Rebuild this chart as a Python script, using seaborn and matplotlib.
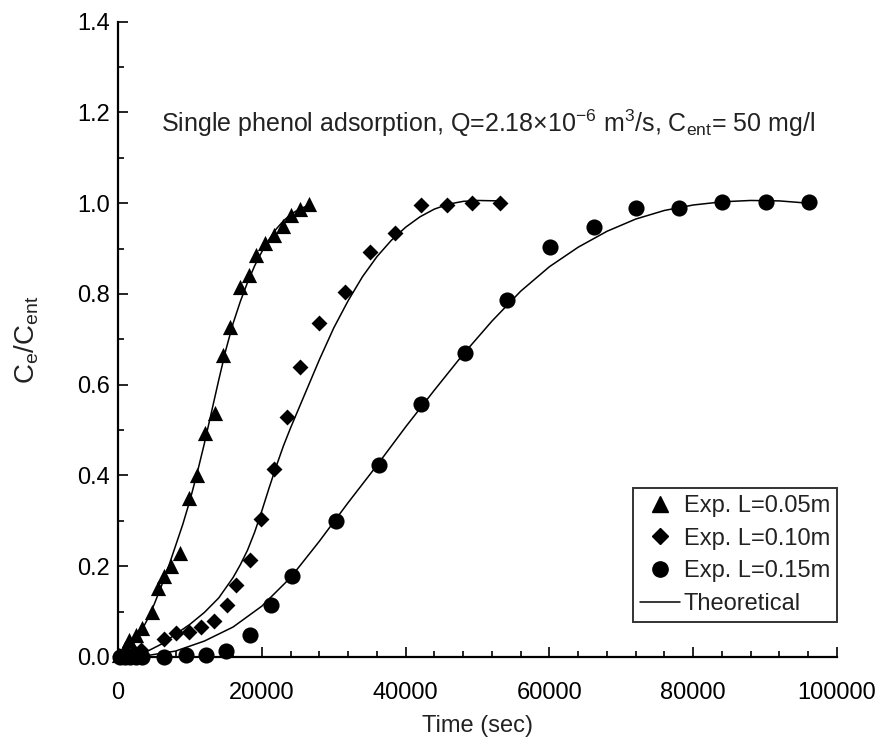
import numpy as np
import pandas as pd
import matplotlib
matplotlib.use('Agg')
import matplotlib.pyplot as plt
import seaborn as sns
from matplotlib.lines import Line2D
from matplotlib.ticker import MultipleLocator, FormatStrFormatter

sns.set_theme(style='ticks')
plt.rcParams['font.family'] = ['Liberation Sans Narrow', 'Liberation Sans', 'DejaVu Sans']
plt.rcParams['mathtext.default'] = 'regular'

t_005 = [200, 900, 1500, 2430, 3360, 4660, 5590, 6370, 7300, 8550, 9800, 10950, 12120,
         13460, 14660, 15640, 16930, 18180, 19150, 20400, 21710, 22960, 24070, 25270, 26600]
c_005 = [0.005, 0.02, 0.038, 0.049, 0.064, 0.100, 0.152, 0.178, 0.200, 0.230, 0.350, 0.400, 0.493,
         0.537, 0.666, 0.728, 0.815, 0.842, 0.886, 0.912, 0.930, 0.950, 0.975, 0.987, 0.998]

t_010 = [300, 1200, 2200, 3200, 6400, 8000, 9900, 11600, 13400, 15170, 16430, 18420, 19950,
         21700, 23520, 25370, 28010, 31530, 35090, 38570, 42140, 45750, 49230, 53150]
c_010 = [0.003, 0.008, 0.010, 0.015, 0.040, 0.053, 0.056, 0.066, 0.080, 0.115, 0.159, 0.213, 0.305,
         0.415, 0.529, 0.639, 0.737, 0.805, 0.893, 0.934, 0.996, 0.996, 1.001, 1.001]

t_015 = [300, 1000, 1700, 2500, 3300, 6450, 9400, 12250, 15050, 18420, 21290, 24210, 30280,
         36340, 42140, 48200, 54090, 60110, 66230, 72060, 78040, 83970, 90090, 96100]
c_015 = [0.0, 0.0, 0.0, 0.0, 0.0, 0.0, 0.004, 0.005, 0.014, 0.049, 0.115, 0.178, 0.300,
         0.424, 0.558, 0.670, 0.787, 0.903, 0.947, 0.990, 0.990, 1.002, 1.002, 1.002]

# 理论曲线
tt_005 = [0, 1000, 2000, 3000, 4000, 5000, 6000, 7000, 8000, 9000, 10000, 11000, 12000, 13000,
          14000, 15000, 16000, 17000, 18000, 19000, 20000, 21000, 22000, 23000, 24000, 25000,
          26000, 26600]
ct_005 = [0, 0.01, 0.025, 0.05, 0.08, 0.115, 0.155, 0.198, 0.245, 0.292, 0.345, 0.405, 0.47, 0.54,
          0.61, 0.677, 0.735, 0.783, 0.825, 0.862, 0.893, 0.92, 0.943, 0.961, 0.975, 0.985,
          0.992, 0.995]

tt_010 = [0, 2000, 4000, 6000, 8000, 10000, 12000, 14000, 16000, 17000, 18000, 19000, 20000, 21000,
          22000, 23000, 24000, 26000, 28000, 30000, 32000, 34000, 36000, 38000, 40000, 42000, 44000,
          46000, 48000, 50000, 53000]
ct_010 = [0, 0.003, 0.012, 0.028, 0.05, 0.072, 0.098, 0.13, 0.175, 0.203, 0.235, 0.275, 0.322,
          0.372, 0.42, 0.465, 0.505, 0.58, 0.655, 0.725, 0.785, 0.838, 0.882, 0.918, 0.947, 0.97,
          0.987, 0.998, 1.004, 1.006, 1.005]

tt_015 = [0, 4000, 8000, 12000, 16000, 20000, 24000, 28000, 32000, 36000, 40000, 44000, 48000,
          52000, 56000, 60000, 64000, 68000, 72000, 76000, 80000, 84000, 88000, 92000, 96000]
ct_015 = [0, 0.003, 0.013, 0.035, 0.066, 0.112, 0.175, 0.255, 0.34, 0.422, 0.507, 0.588, 0.667,
          0.74, 0.806, 0.86, 0.903, 0.938, 0.965, 0.984, 0.996, 1.003, 1.006, 1.005, 1.0]

labels = ['Exp. L=0.05m', 'Exp. L=0.10m', 'Exp. L=0.15m']

fig = plt.figure(figsize=(8.77, 7.42), dpi=100)
ax = fig.add_axes([0.1346, 0.1146, 0.8198, 0.8562])

for tt, ct in [(tt_005, ct_005), (tt_010, ct_010), (tt_015, ct_015)]:
    sns.lineplot(x=tt, y=ct, ax=ax, color='black', linewidth=1.1, sort=False,
                 legend=False, clip_on=False)

sns.scatterplot(x=t_005, y=c_005, ax=ax, marker='^', s=120, color='black',
                edgecolor='black', linewidth=0, legend=False, clip_on=False, zorder=3)
sns.scatterplot(x=t_010, y=c_010, ax=ax, marker='D', s=66, color='black',
                edgecolor='black', linewidth=0, legend=False, clip_on=False, zorder=3)
sns.scatterplot(x=t_015, y=c_015, ax=ax, marker='o', s=135, color='black',
                edgecolor='black', linewidth=0, legend=False, clip_on=False, zorder=3)

ax.set_xlim(0, 100000)
ax.set_ylim(0, 1.4)
ax.xaxis.set_major_locator(MultipleLocator(20000))
ax.xaxis.set_minor_locator(MultipleLocator(4000))
ax.yaxis.set_major_locator(MultipleLocator(0.2))
ax.yaxis.set_minor_locator(MultipleLocator(0.1))
ax.yaxis.set_major_formatter(FormatStrFormatter('%.1f'))
ax.tick_params(which='both', direction='in', colors='black', labelsize=17, width=1.2)
ax.tick_params(which='major', length=7)
ax.tick_params(which='minor', length=4)
ax.tick_params(axis='y', which='major', pad=6)
ax.tick_params(axis='x', which='major', pad=18)
sns.despine(ax=ax)
for sp in ['left', 'bottom']:
    ax.spines[sp].set_linewidth(1.6)
    ax.spines[sp].set_color('black')

ax.set_xlabel('Time (sec)', fontsize=17, color='#222222', labelpad=8)
ax.set_ylabel('C$_e$/C$_{ent}$', fontsize=20, color='#222222', labelpad=26)

ax.text(51500, 1.175,
        'Single phenol adsorption, Q=2.18×10$^{-6}$ m$^3$/s, C$_{ent}$= 50 mg/l',
        ha='center', va='center', fontsize=18, color='#222222')

handles = [
    Line2D([], [], marker='^', color='black', linestyle='none', markersize=11),
    Line2D([], [], marker='D', color='black', linestyle='none', markersize=8),
    Line2D([], [], marker='o', color='black', linestyle='none', markersize=11),
    Line2D([], [], color='black', linewidth=1.1),
]
leg = ax.legend(handles, labels + ['Theoretical'], loc='lower right',
                bbox_to_anchor=(1.0, 0.055), borderaxespad=0, fontsize=17,
                frameon=True, fancybox=False, handlelength=1.7, handletextpad=0.15,
                labelspacing=0.45, borderpad=0.3)
leg.get_frame().set_edgecolor('black')
leg.get_frame().set_linewidth(1.4)
for txt in leg.get_texts():
    txt.set_color('#222222')

fig.savefig('out.png', dpi=100)
